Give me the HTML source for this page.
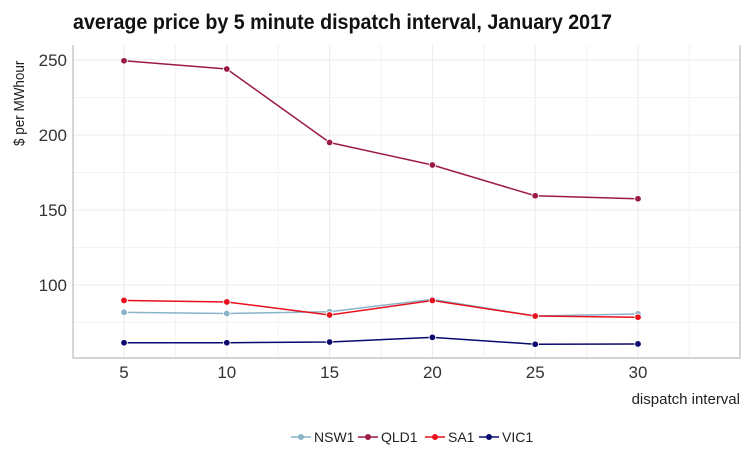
<!DOCTYPE html>
<html><head><meta charset="utf-8"><style>
body{margin:0;background:#fff;font-family:"Liberation Sans",sans-serif}
</style></head><body>
<svg id="chart" width="754" height="471" xmlns="http://www.w3.org/2000/svg" font-family="Liberation Sans, sans-serif">
<text x="73" y="29" font-size="21" font-weight="bold" fill="#111" textLength="539" lengthAdjust="spacingAndGlyphs">average price by 5 minute dispatch interval, January 2017</text>
<g id="grid"></g>
<g id="axes"></g>
<g id="series"></g>
<g id="legend"></g>
</svg>
<script>
const categories=[5,10,15,20,25,30];
const seriesNames=["NSW1","QLD1","SA1","VIC1"];
const seriesColors=["#8ab4c8","#9b1b45","#e8101c","#0a0a6e"];
const nsw1=[81.8,81,82.2,90.4,79.3,80.7];
const qld1=[249.5,244,195,180,159.5,157.5];
const sa1=[89.7,88.7,80,89.7,79.3,78.5];
const vic1=[61.5,61.5,62,65.1,60.5,60.7];
const yTicks=[100,150,200,250];
const yMinor=[75,125,175,225];
const xTicks=[5,10,15,20,25,30];
const xMinor=[7.5,12.5,17.5,22.5,27.5,32.5];
const allSeries=[nsw1,qld1,sa1,vic1];
const L=73,R=740,T=45,B=358;
const x=v=>124+(v-5)*20.56;
const y=v=>60+(250-v)*1.5;
const NS="http://www.w3.org/2000/svg";
function mk(tag,attrs,parent){const e=document.createElementNS(NS,tag);for(const k in attrs)e.setAttribute(k,attrs[k]);parent.appendChild(e);return e;}
const grid=document.getElementById('grid'),axes=document.getElementById('axes'),ser=document.getElementById('series'),leg=document.getElementById('legend');
yMinor.forEach(v=>{const l=mk('line',{x1:L,x2:R,y1:y(v),y2:y(v),stroke:'#f2f2f2','stroke-width':1},grid);

});
xMinor.forEach(v=>{const l=mk('line',{x1:x(v),x2:x(v),y1:T,y2:B,stroke:'#f2f2f2','stroke-width':1},grid);

});
yTicks.forEach(v=>{const l=mk('line',{x1:L,x2:R,y1:y(v),y2:y(v),stroke:'#ebebeb','stroke-width':1},grid);


const t=mk('text',{x:L-6,y:y(v)+6,'text-anchor':'end','font-size':17,fill:'#333'},axes);t.textContent=v;

});
xTicks.forEach(v=>{const l=mk('line',{x1:x(v),x2:x(v),y1:T,y2:B,stroke:'#ebebeb','stroke-width':1},grid);


const t=mk('text',{x:x(v),y:378,'text-anchor':'middle','font-size':17,fill:'#333'},axes);t.textContent=v;

});
const ax=mk('path',{d:`M${L},${T} V${B} H${R} V${T}`,fill:'none',stroke:'#bbb','stroke-width':1.2},axes);


const yt=mk('text',{x:0,y:0,'font-size':15,fill:'#222',transform:'translate(24,146) rotate(-90) scale(0.9,1)'},axes);yt.textContent='$ per MWhour';


const xt=mk('text',{x:740,y:404,'text-anchor':'end','font-size':15,fill:'#222'},axes);xt.textContent='dispatch interval';


allSeries.forEach((s,i)=>{
 const g=mk('g',{},ser);
 
 
 const p=mk('polyline',{points:s.map((v,j)=>x(categories[j])+','+y(v)).join(' '),fill:'none',stroke:seriesColors[i],'stroke-width':1.5},g);
 
 
 s.forEach((v,j)=>{const c=mk('circle',{cx:x(categories[j]),cy:y(v),r:3.3,fill:seriesColors[i],stroke:'#fff','stroke-width':0.8},g);
 
 });
});
const legX=[291,358,425,479];
seriesNames.forEach((n,i)=>{
 const g=mk('g',{},leg);
 
 
 mk('line',{x1:legX[i],x2:legX[i]+20,y1:437,y2:437,stroke:seriesColors[i],'stroke-width':1.5},g);
 mk('circle',{cx:legX[i]+10,cy:437,r:3,fill:seriesColors[i]},g);
 const t=mk('text',{x:legX[i]+23,y:442,'font-size':14,fill:'#222'},g);t.textContent=n;
});
</script>
</body></html>
